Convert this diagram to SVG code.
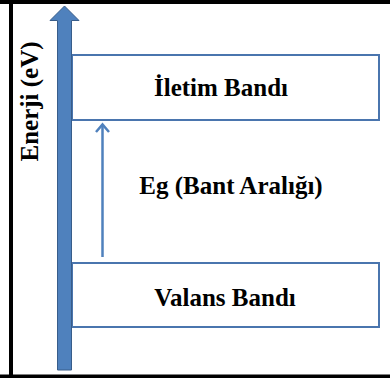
<svg xmlns="http://www.w3.org/2000/svg" width="390" height="378" viewBox="0 0 390 378">
<style>
.band{fill:#fff;stroke:#4A75AE;stroke-width:2}
.lbl{font-family:"Liberation Serif","Times New Roman",serif;font-weight:bold;font-size:25px;fill:#000;text-anchor:middle}
</style>
<rect x="0" y="0" width="390" height="378" fill="#fff"/>
<g id="frame" fill="none" stroke="#000" stroke-width="4">
<line x1="0" y1="2" x2="390" y2="2"/>
<line x1="11" y1="0" x2="11" y2="378"/>
<line x1="0" y1="376.5" x2="390" y2="376.5"/>
</g>
<g id="valence-band">
<rect class="band" x="72" y="263" width="307" height="64"/>
<text class="lbl" x="225" y="306">Valans Bandı</text>
</g>
<g id="conduction-band">
<rect class="band" x="72" y="55" width="307" height="65"/>
<text class="lbl" x="221" y="96">İletim Bandı</text>
</g>
<g id="energy-axis">
<path d="M57.5,370 L57.5,20.5 L50,20.5 L64.5,6 L79,20.5 L71.5,20.5 L71.5,370 Z" fill="#4F81BD" stroke="#385D8A" stroke-width="1"/>
<text class="lbl" transform="translate(38,101.5) rotate(-90)" x="0" y="0">Enerji (eV)</text>
</g>
<g id="connectors">
<line x1="102.5" y1="257" x2="102.5" y2="125" stroke="#4F81BD" stroke-width="2.5"/>
<polyline points="96,132 102.5,124.5 109,132" fill="none" stroke="#4F81BD" stroke-width="2.5"/>
</g>
<g id="gap-label">
<text class="lbl" x="231" y="194">Eg (Bant Aralığı)</text>
</g>
</svg>
